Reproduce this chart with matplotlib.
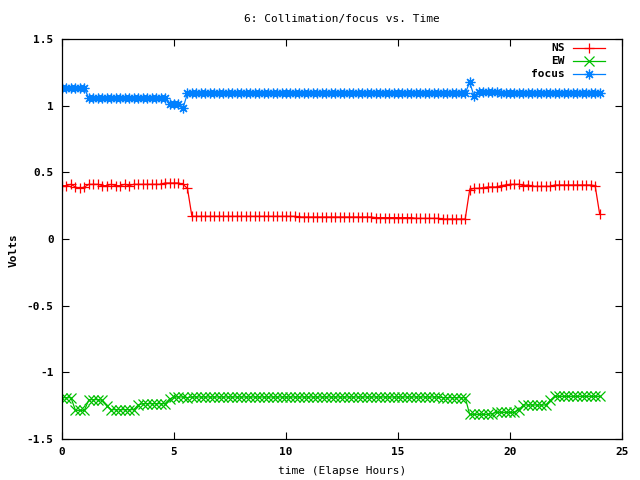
import numpy as np
import matplotlib
matplotlib.use("Agg")
import matplotlib.pyplot as plt
from matplotlib.ticker import FormatStrFormatter

# sample times (hours), one reading every 0.2 h
hours = np.arange(121) * 0.2

ns = [0.40, 0.40, 0.41, 0.39, 0.38, 0.39, 0.41, 0.41, 0.41, 0.40,
      0.40, 0.41, 0.40, 0.40, 0.41, 0.40, 0.41, 0.41, 0.41, 0.41,
      0.41, 0.41, 0.41, 0.42, 0.42, 0.42, 0.42, 0.41, 0.38, 0.17,
      0.17, 0.17, 0.17, 0.17, 0.17, 0.17, 0.17, 0.17, 0.17, 0.17,
      0.17, 0.17, 0.17, 0.17, 0.17, 0.17, 0.17, 0.17, 0.17, 0.17,
      0.17, 0.17, 0.17, 0.165, 0.165, 0.165, 0.165, 0.165, 0.165, 0.165,
      0.165, 0.165, 0.165, 0.165, 0.165, 0.165, 0.165, 0.165, 0.165, 0.165,
      0.16, 0.16, 0.16, 0.16, 0.16, 0.16, 0.16, 0.16, 0.16, 0.155,
      0.155, 0.155, 0.155, 0.155, 0.155, 0.15, 0.15, 0.15, 0.15, 0.15,
      0.15, 0.37, 0.38, 0.38, 0.385, 0.39, 0.39, 0.39, 0.40, 0.405,
      0.41, 0.41, 0.41, 0.40, 0.405, 0.395, 0.395, 0.395, 0.395, 0.395,
      0.405, 0.405, 0.405, 0.405, 0.405, 0.405, 0.405, 0.405, 0.405, 0.40,
      0.19]

ew = [-1.19, -1.19, -1.19, -1.285, -1.285, -1.285, -1.205, -1.205, -1.205, -1.21,
      -1.25, -1.28, -1.28, -1.28, -1.28, -1.28, -1.28, -1.245, -1.235, -1.235,
      -1.235, -1.235, -1.235, -1.235, -1.20, -1.185, -1.185, -1.185, -1.19, -1.185,
      -1.185, -1.185, -1.185, -1.185, -1.185, -1.185, -1.185, -1.185, -1.185, -1.185,
      -1.185, -1.185, -1.185, -1.185, -1.185, -1.185, -1.185, -1.185, -1.185, -1.185,
      -1.185, -1.185, -1.185, -1.185, -1.185, -1.185, -1.185, -1.185, -1.185, -1.185,
      -1.185, -1.185, -1.185, -1.185, -1.185, -1.185, -1.185, -1.185, -1.185, -1.185,
      -1.185, -1.185, -1.185, -1.185, -1.185, -1.185, -1.185, -1.185, -1.185, -1.185,
      -1.185, -1.185, -1.185, -1.185, -1.185, -1.19, -1.19, -1.19, -1.19, -1.19,
      -1.19, -1.315, -1.315, -1.315, -1.315, -1.315, -1.31, -1.30, -1.30, -1.30,
      -1.30, -1.30, -1.28, -1.245, -1.245, -1.245, -1.245, -1.245, -1.245, -1.21,
      -1.18, -1.18, -1.18, -1.18, -1.18, -1.18, -1.18, -1.18, -1.18, -1.18,
      -1.18]

focus = [1.13, 1.13, 1.13, 1.13, 1.13, 1.13, 1.055, 1.055, 1.055, 1.055,
         1.055, 1.055, 1.055, 1.055, 1.055, 1.055, 1.055, 1.055, 1.055, 1.055,
         1.055, 1.055, 1.055, 1.055, 1.01, 1.01, 1.01, 0.98, 1.093, 1.093,
         1.093, 1.093, 1.093, 1.093, 1.093, 1.093, 1.093, 1.093, 1.093, 1.093,
         1.093, 1.093, 1.093, 1.093, 1.093, 1.093, 1.093, 1.093, 1.093, 1.093,
         1.093, 1.093, 1.093, 1.093, 1.093, 1.093, 1.093, 1.093, 1.093, 1.093,
         1.093, 1.093, 1.093, 1.093, 1.093, 1.093, 1.093, 1.093, 1.093, 1.093,
         1.093, 1.093, 1.093, 1.093, 1.093, 1.093, 1.093, 1.093, 1.093, 1.093,
         1.093, 1.093, 1.093, 1.093, 1.093, 1.093, 1.093, 1.093, 1.093, 1.093,
         1.093, 1.175, 1.07, 1.105, 1.105, 1.105, 1.105, 1.105, 1.093, 1.093,
         1.093, 1.093, 1.093, 1.093, 1.093, 1.093, 1.093, 1.093, 1.093, 1.093,
         1.093, 1.093, 1.093, 1.093, 1.093, 1.093, 1.093, 1.093, 1.093, 1.093,
         1.093]

labels = ["NS", "EW", "focus"]
colors = ["#ff0000", "#00c000", "#0080ff"]
markers = ["+", "x", (8, 2, 0)]

plt.rcParams["font.family"] = "DejaVu Sans Mono"
plt.rcParams["font.weight"] = "bold"
plt.rcParams["font.size"] = 8
plt.rcParams["axes.unicode_minus"] = False

fig = plt.figure(figsize=(6.4, 4.8), dpi=100)
ax = fig.add_axes([62/640, 41/480, 560/640, 400/480])

for series, lab, col, mk in zip([ns, ew, focus], labels, colors, markers):
    ax.plot(hours, series, color=col, marker=mk, markersize=7,
            markeredgewidth=0.9, linewidth=0.9, label=lab)

ax.set_xlim(0, 25)
ax.set_ylim(-1.5, 1.5)
ax.set_xticks(np.arange(0, 26, 5))
ax.set_yticks(np.arange(-1.5, 1.6, 0.5))
ax.yaxis.set_major_formatter(FormatStrFormatter("%g"))
ax.tick_params(direction="in", top=True, right=True, length=5, width=0.8, pad=6)
for s in ax.spines.values():
    s.set_linewidth(0.9)

ax.set_title("6: Collimation/focus vs. Time", fontsize=8, pad=12)
ax.set_xlabel("time (Elapse Hours)", labelpad=6)
fig.text(14/640, 0.479, "Volts", rotation=90, ha="center", va="center")

# gnuplot-style key: labels right aligned, sample line to the right
for k, (lab, col, mk) in enumerate(zip(labels, colors, markers)):
    y = 0.977 - k * 0.0325
    ax.text(0.898, y, lab, ha="right", va="center", transform=ax.transAxes)
    ax.plot([0.912, 0.97], [y, y], color=col, linewidth=0.9, transform=ax.transAxes)
    ax.plot([0.941], [y], color=col, marker=mk, markersize=7,
            markeredgewidth=0.9, transform=ax.transAxes)

fig.savefig("out.png", dpi=100)
